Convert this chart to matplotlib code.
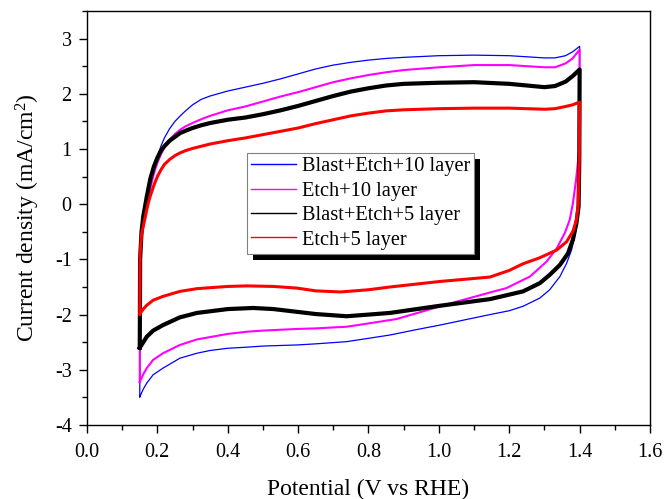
import matplotlib
matplotlib.use('Agg')
import matplotlib.pyplot as plt
from matplotlib.patches import Rectangle
from matplotlib.ticker import MultipleLocator
import numpy as np

plt.rcParams['font.family'] = ['Liberation Serif', 'DejaVu Serif']
plt.rcParams['mathtext.fontset'] = 'custom'
plt.rcParams['mathtext.rm'] = 'Liberation Serif'
plt.rcParams['mathtext.it'] = 'Liberation Serif'
plt.rcParams['axes.unicode_minus'] = False

# forward (anodic) sweep, 0.15 -> 1.4 V, shared potential grid
v_fwd = [0.15, 0.151, 0.155, 0.16, 0.165, 0.17, 0.175, 0.18, 0.19, 0.2, 0.21, 0.22,
         0.235, 0.25, 0.265, 0.28, 0.3, 0.325, 0.35, 0.4, 0.45, 0.5, 0.55, 0.6, 0.65,
         0.7, 0.75, 0.8, 0.85, 0.9, 1.0, 1.1, 1.2, 1.25, 1.3, 1.33, 1.36, 1.38, 1.4]
blue_fwd = [-3.49, -1.2, -0.6, -0.4, -0.2, -0.03, 0.12, 0.28, 0.6, 0.85, 1.05, 1.2,
            1.37, 1.5, 1.6, 1.69, 1.8, 1.9, 1.96, 2.05, 2.12, 2.19, 2.27, 2.36, 2.45,
            2.52, 2.57, 2.61, 2.64, 2.66, 2.69, 2.70, 2.69, 2.67, 2.65, 2.65, 2.69, 2.76, 2.86]
magenta_fwd = [-3.22, -1.1, -0.6, -0.4, -0.16, 0.02, 0.18, 0.3, 0.55, 0.75, 0.9, 1.03,
               1.17, 1.27, 1.35, 1.41, 1.47, 1.54, 1.60, 1.70, 1.77, 1.86, 1.95, 2.03, 2.12,
               2.21, 2.28, 2.34, 2.39, 2.43, 2.48, 2.52, 2.52, 2.50, 2.48, 2.48, 2.55, 2.64, 2.80]
black_fwd = [-2.6, -1.0, -0.5, -0.22, -0.04, 0.14, 0.3, 0.46, 0.68, 0.84, 0.97, 1.05,
             1.15, 1.22, 1.29, 1.33, 1.38, 1.43, 1.47, 1.53, 1.57, 1.63, 1.70, 1.78, 1.87,
             1.96, 2.04, 2.10, 2.15, 2.18, 2.20, 2.21, 2.18, 2.15, 2.12, 2.14, 2.22, 2.32, 2.44]
red_fwd = [-1.99, -0.9, -0.55, -0.4, -0.25, -0.1, 0.04, 0.15, 0.34, 0.50, 0.62, 0.72,
           0.81, 0.88, 0.93, 0.97, 1.01, 1.05, 1.09, 1.15, 1.20, 1.26, 1.32, 1.38, 1.46,
           1.53, 1.60, 1.65, 1.69, 1.71, 1.73, 1.74, 1.74, 1.73, 1.72, 1.73, 1.77, 1.80, 1.85]

# reverse (cathodic) sweep, 1.4 -> 0.15 V
blue_v_rev = [1.4, 1.399, 1.397, 1.391, 1.386, 1.377, 1.363, 1.344, 1.315, 1.287, 1.239,
              1.2, 1.145, 1.07, 1.003, 0.93, 0.861, 0.8, 0.738, 0.65, 0.597, 0.5, 0.455,
              0.4, 0.35, 0.3125, 0.264, 0.216, 0.188, 0.17, 0.16, 0.15]
blue_rev = [2.86, 0.5, -0.16, -0.40, -0.58, -0.83, -1.07, -1.31, -1.55, -1.70, -1.85,
            -1.93, -2.0, -2.1, -2.19, -2.28, -2.37, -2.43, -2.49, -2.53, -2.55, -2.57, -2.59,
            -2.61, -2.65, -2.70, -2.79, -2.97, -3.09, -3.24, -3.35, -3.49]
magenta_v_rev = [1.4, 1.399, 1.39, 1.386, 1.381, 1.372, 1.358, 1.335, 1.306, 1.259, 1.192,
                 1.145, 1.031, 0.95, 0.88, 0.8, 0.738, 0.65, 0.597, 0.5, 0.455, 0.4,
                 0.3125, 0.264, 0.216, 0.188, 0.17, 0.16, 0.15]
magenta_rev = [2.80, 1.0, 0.45, 0.26, 0.02, -0.28, -0.52, -0.80, -1.04, -1.31, -1.52,
               -1.60, -1.80, -1.95, -2.08, -2.16, -2.22, -2.25, -2.26, -2.29, -2.31, -2.35,
               -2.45, -2.55, -2.70, -2.82, -2.97, -3.08, -3.22]
black_v_rev = [1.4, 1.399, 1.397, 1.391, 1.381, 1.367, 1.344, 1.315, 1.287, 1.239, 1.145,
               1.003, 0.861, 0.8, 0.738, 0.65, 0.597, 0.53, 0.472, 0.4, 0.3125, 0.264,
               0.216, 0.188, 0.17, 0.16, 0.15]
black_rev = [2.44, 0.8, -0.04, -0.34, -0.64, -0.89, -1.10, -1.28, -1.43, -1.58, -1.72,
             -1.84, -1.97, -2.0, -2.03, -1.99, -1.95, -1.90, -1.88, -1.90, -1.97, -2.05,
             -2.19, -2.29, -2.40, -2.50, -2.6]
red_v_rev = [1.4, 1.399, 1.396, 1.391, 1.381, 1.363, 1.335, 1.287, 1.239, 1.2, 1.145,
             1.003, 0.861, 0.8, 0.72, 0.65, 0.597, 0.53, 0.455, 0.4, 0.3125, 0.264,
             0.216, 0.188, 0.17, 0.16, 0.15]
red_rev = [1.85, 0.8, 0.0, -0.28, -0.49, -0.68, -0.83, -0.97, -1.08, -1.2, -1.32,
           -1.40, -1.50, -1.55, -1.59, -1.57, -1.52, -1.49, -1.48, -1.49, -1.53, -1.58,
           -1.67, -1.74, -1.83, -1.90, -1.99]

labels = ['Blast+Etch+10 layer', 'Etch+10 layer', 'Blast+Etch+5 layer', 'Etch+5 layer']
colors = ['#0000ff', '#ff00ff', '#000000', '#ff0000']
widths = [0.9, 1.5, 3.0, 2.2]
fwd = [blue_fwd, magenta_fwd, black_fwd, red_fwd]
v_rev = [blue_v_rev, magenta_v_rev, black_v_rev, red_v_rev]
rev = [blue_rev, magenta_rev, black_rev, red_rev]

fig, ax = plt.subplots(figsize=(6.66, 4.99), dpi=100)
plt.subplots_adjust(left=0.1306, right=0.976, top=0.978, bottom=0.1483)

for lab, c, lw, f, vr, r in zip(labels, colors, widths, fwd, v_rev, rev):
    v = np.concatenate([v_fwd, vr])
    j = np.concatenate([f, r])
    ax.plot(v, j, color=c, lw=lw, label=lab, solid_joinstyle='round')

ax.set_xlim(0.0, 1.6)
ax.set_ylim(-4, 3.5)
ax.xaxis.set_major_locator(MultipleLocator(0.2))
ax.xaxis.set_minor_locator(MultipleLocator(0.1))
ax.yaxis.set_major_locator(MultipleLocator(1))
ax.yaxis.set_minor_locator(MultipleLocator(0.5))
ax.xaxis.set_major_formatter(plt.FormatStrFormatter('%.1f'))
ax.tick_params(which='major', direction='out', length=6, width=1, labelsize=14.5, pad=7)
ax.tick_params(which='minor', direction='out', length=3.5, width=1)
ax.tick_params(axis='y', which='major', pad=5)
for s in ax.spines.values():
    s.set_linewidth(1.0)

ax.set_xlabel('Potential (V vs RHE)', fontsize=17, labelpad=12)
ax.set_ylabel(r'Current density (mA/cm$^2$)', fontsize=17, labelpad=9)

leg = ax.legend(loc='upper left', bbox_to_anchor=(0.284, 0.657), borderaxespad=0,
                fontsize=14.7, handlelength=2.2, handletextpad=0.3, labelspacing=0.25,
                borderpad=0.2, fancybox=False, framealpha=1, edgecolor='#808080')
leg.get_frame().set_linewidth(0.8)
for h in leg.get_lines():
    h.set_linewidth(1.0)
leg.set_zorder(5)

# hard black drop shadow behind the legend box
fig.canvas.draw()
bb = leg.get_window_extent()
off = 6
sh = Rectangle((bb.x0 + off, bb.y0 - off), bb.width, bb.height, transform=None,
               facecolor='black', edgecolor='none', zorder=4)
ax.add_artist(sh)

fig.savefig('out.png', dpi=100)
